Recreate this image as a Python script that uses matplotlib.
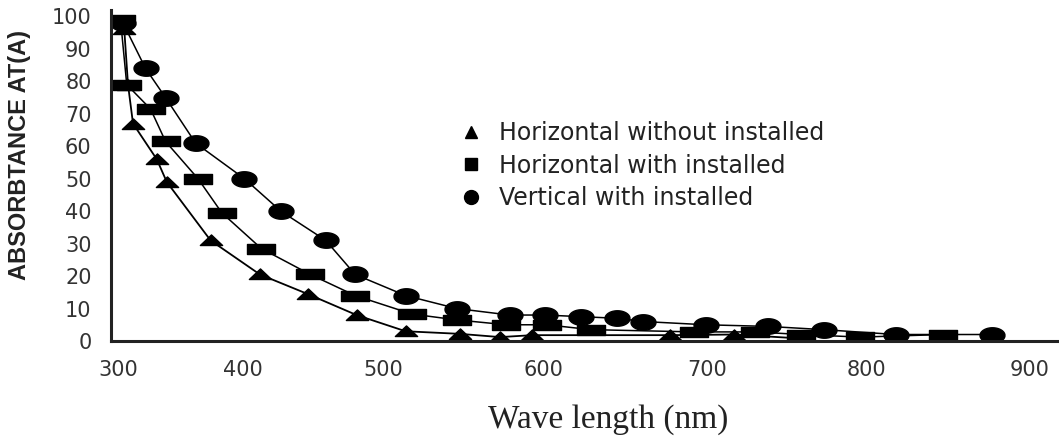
import numpy as np
import matplotlib
matplotlib.use("Agg")
import matplotlib.pyplot as plt
from matplotlib.path import Path
from matplotlib.lines import Line2D

# ------------------ DATA ------------------

wl_tri = [305, 308, 312, 331, 339, 374, 412, 446, 481, 514, 548, 573, 593, 677, 717, 758]
abs_tri = [96, 79, 67, 56, 49, 31, 20.5, 14.5, 8, 3, 2.2, 1.2, 1.8, 1.8, 2, 0.8]

wl_sq = [302, 307, 326, 338, 364, 383, 413, 448, 480, 518, 546, 577, 602, 629, 692, 730, 759, 796, 847]
abs_sq = [99, 79, 71.5, 61.5, 50, 39.5, 28.5, 20.5, 14, 8.3, 6.5, 5, 5, 3.5, 2.8, 2.8, 2, 1.2, 2]

wl_circ = [304, 322, 338, 362, 401, 427, 459, 480, 514, 546, 579, 601, 623, 645, 661,
           699, 738, 773, 818, 877]
abs_circ = [98, 84, 75, 61, 50, 40, 31, 20.5, 14, 10, 8, 8, 7.5, 7, 6, 5, 4.5, 3.5, 2, 2]

labels = ["Horizontal without installed", "Horizontal with installed", "Vertical with installed"]
xticks = [300, 400, 500, 600, 700, 800, 900]
yticks = [0, 10, 20, 30, 40, 50, 60, 70, 80, 90, 100]

# ------------------ UNEVEN X SCALE OF THE SCAN ------------------
# tick label centres in the scan are not evenly spaced, so map them piecewise
_wl_anchor = np.array([200, 300, 400, 500, 600, 700, 800, 900, 1000], dtype=float)
_px_anchor = np.array([-7, 118, 243, 383, 543, 707, 866, 1029, 1192], dtype=float)

def _fwd(x):
    return np.interp(x, _wl_anchor, _px_anchor)

def _inv(p):
    return np.interp(p, _px_anchor, _wl_anchor)

# ------------------ MARKERS (scan is stretched sideways) ------------------

tri_mk = Path([(-1, -0.45), (1, -0.45), (0, 0.5), (-1, -0.45)],
              [Path.MOVETO, Path.LINETO, Path.LINETO, Path.CLOSEPOLY])
sq_mk = Path([(-1, -0.38), (1, -0.38), (1, 0.38), (-1, 0.38), (-1, -0.38)],
             [Path.MOVETO, Path.LINETO, Path.LINETO, Path.LINETO, Path.CLOSEPOLY])
_t = np.linspace(0, 2 * np.pi, 40)
circ_mk = Path(np.column_stack([np.cos(_t), 0.62 * np.sin(_t)]))

# ------------------ PLOT ------------------

fig = plt.figure(figsize=(10.59, 4.44), dpi=100)
ax = fig.add_axes([111 / 1059, 1 - 341 / 444, 1 - 111 / 1059, 331 / 444])

ax.set_xscale("function", functions=(_fwd, _inv))

ax.plot(wl_tri, abs_tri, color="black", lw=1.3, marker=tri_mk, ms=16, mfc="black", mec="black")
ax.plot(wl_sq, abs_sq, color="black", lw=1.1, marker=sq_mk, ms=20, mfc="black", mec="black")
ax.plot(wl_circ, abs_circ, color="black", lw=1.1, marker=circ_mk, ms=18, mfc="black", mec="black")

ax.set_xlim(294.4, 918)
ax.set_ylim(0, 102)
ax.set_xticks(xticks)
ax.set_yticks(yticks)
ax.tick_params(length=0, labelsize=15, labelcolor="#333333")
ax.tick_params(axis="x", pad=14)
ax.tick_params(axis="y", pad=14)

for side in ["top", "right"]:
    ax.spines[side].set_visible(False)
for side in ["left", "bottom"]:
    ax.spines[side].set_linewidth(2.2)
    ax.spines[side].set_color("#222222")

fig.text(20 / 1059, 1 - 155 / 444, "ABSORBTANCE AT(A)", rotation=90, ha="center", va="center",
         fontsize=17, fontweight="bold", family="Liberation Sans", color="#222222")
fig.text(608 / 1059, 1 - 420 / 444, "Wave length (nm)", ha="center", va="center",
         fontsize=24, family="Liberation Serif", color="#222222")

handles = [
    Line2D([], [], ls="none", marker="^", ms=9, color="black"),
    Line2D([], [], ls="none", marker="s", ms=8, color="black"),
    Line2D([], [], ls="none", marker="o", ms=10, color="black"),
]
ax.legend(handles, labels, loc="upper left", bbox_to_anchor=(438 / 1059, 1 - 100 / 444),
          bbox_transform=fig.transFigure, frameon=False, fontsize=17,
          handletextpad=0.7, labelspacing=0.35, labelcolor="#222222",
          handlelength=1.0)

fig.savefig("out.png", dpi=100)
